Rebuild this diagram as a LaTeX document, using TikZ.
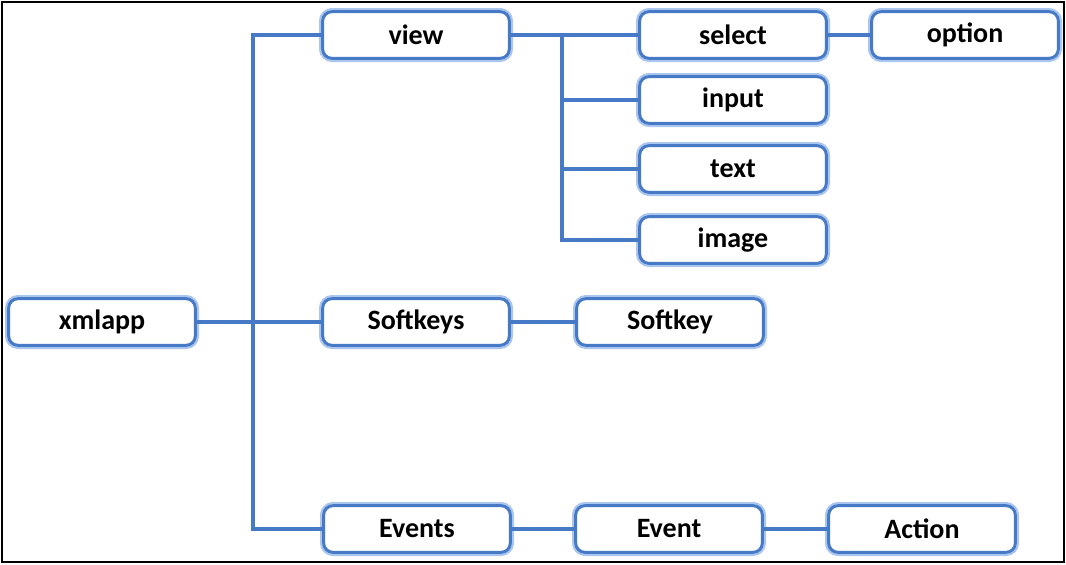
\documentclass[tikz,border=0pt]{standalone}
\usepackage{fontspec}
\setmainfont{Carlito}
\definecolor{boxblue}{RGB}{70,122,198}
\definecolor{glowblue}{RGB}{170,198,238}

\begin{document}
\begin{tikzpicture}[x=0.75pt,y=-0.75pt,
    item/.style={draw=boxblue, line width=2.2pt, rounded corners=7pt, fill=white,
        minimum width=140pt, minimum height=35pt,
        font=\bfseries\fontsize{21}{25}\selectfont,
        preaction={draw=glowblue, line width=5.5pt}},
    link/.style={draw=boxblue, line width=2.6pt}]
    \useasboundingbox (0,0) rectangle (1066,564);
    \draw[line width=2pt] (2,2) rectangle (1064,562);
    \node[item] (xmlapp) at (102,322) {xmlapp};
    \node[item] (view) at (416,35) {view};
    \node[item] (softkeys) at (416,322) {Softkeys};
    \node[item] (events) at (417,529) {Events};
    \node[item] (select) at (733,35) {select};
    \node[item] (option) at (965,35) {option};
    \node[item] (input) at (733,100) {input};
    \node[item] (text) at (733,169) {text};
    \node[item] (image) at (733,240) {image};
    \node[item] (softkey) at (670,322) {Softkey};
    \node[item] (event) at (669,529) {Event};
    \node[item] (action) at (922,529) {Action};
    \coordinate (trunk) at (253,322);
    \coordinate (fork) at (562,100);
    \draw[link] (xmlapp) -- (softkeys);
    \draw[link] (view.west) -| (trunk) |- (events.west);
    \draw[link] (view) -- (select);
    \draw[link] (select.west -| fork) |- (image.west);
    \draw[link] (fork |- input.west) -- (input.west);
    \draw[link] (fork |- text.west) -- (text.west);
    \draw[link] (select) -- (option);
    \draw[link] (softkeys) -- (softkey);
    \draw[link] (events) -- (event);
    \draw[link] (event) -- (action);
\end{tikzpicture}
\end{document}
